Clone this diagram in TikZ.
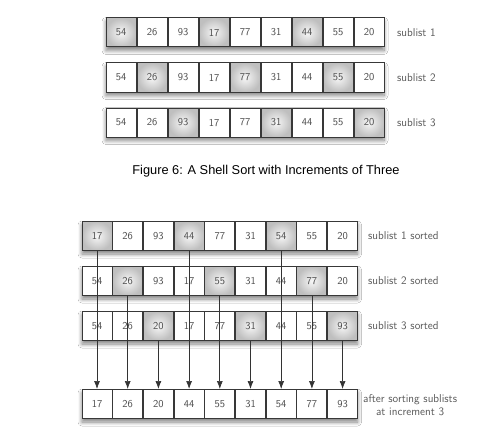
\documentclass[tikz,border=0pt]{standalone}
\usepackage{fontspec}
\newfontfamily\capfont{Liberation Sans}
\usetikzlibrary{shadows.blur,arrows.meta}
\definecolor{cellborder}{gray}{0.22}
\definecolor{celltext}{gray}{0.3}
\definecolor{labeltext}{gray}{0.35}
\tikzset{
 cell/.style={draw=cellborder, line width=1pt, fill=white, minimum width=30pt, minimum height=29pt, inner sep=0pt, text=celltext, font=\sffamily\fontsize{10.5}{12}\selectfont},
 hi/.style={shading=radial, inner color=gray!6, outer color=gray!50},
 plain/.style={},
 rowshadow/.style={draw=none, fill=white, minimum height=29pt, inner sep=0pt, blur shadow={shadow xshift=0pt, shadow yshift=-3.5pt, shadow blur steps=8, shadow opacity=50, shadow blur radius=4pt}},
 lbl/.style={anchor=west, text=labeltext, font=\sffamily\fontsize{11.4}{13.5}\selectfont, inner sep=0pt},
 conn/.style={draw=black!80, line width=0.7pt, -{Latex[length=8pt,width=6pt]}},
 captext/.style={font=\capfont\fontsize{12.8}{15}\selectfont, text=black, inner sep=0pt},
}
\begin{document}
\begin{tikzpicture}[x=1pt,y=-1pt]
\useasboundingbox[fill=white] (0,0) rectangle (487,428);
% ---------- top figure ----------
\node[rowshadow, minimum width=278pt] (t1bg) at (245,32.5) {};
\node[rowshadow, minimum width=278pt] (t2bg) at (245,77.5) {};
\node[rowshadow, minimum width=278pt] (t3bg) at (245,122.5) {};
\foreach \v/\s [count=\k] in {54/hi,26/plain,93/plain,17/hi,77/plain,31/plain,44/hi,55/plain,20/plain}
  \node[cell,\s] (t1-\k) at ({121+(\k-1)*31},32.5) {\v};
\foreach \v/\s [count=\k] in {54/plain,26/hi,93/plain,17/plain,77/hi,31/plain,44/plain,55/hi,20/plain}
  \node[cell,\s] (t2-\k) at ({121+(\k-1)*31},77.5) {\v};
\foreach \v/\s [count=\k] in {54/plain,26/plain,93/hi,17/plain,77/plain,31/hi,44/plain,55/plain,20/hi}
  \node[cell,\s] (t3-\k) at ({121+(\k-1)*31},122.5) {\v};
\node[lbl] (lt1) at (397,32.5) {sublist 1};
\node[lbl] (lt2) at (397,77.5) {sublist 2};
\node[lbl] (lt3) at (397,122.5) {sublist 3};
\node[captext] (caption) at (266,171) {Figure 6: A Shell Sort with Increments of Three};
% ---------- bottom figure ----------
\node[rowshadow, minimum width=275.6pt] (b1bg) at (219.8,236) {};
\node[rowshadow, minimum width=275.6pt] (b2bg) at (219.8,281) {};
\node[rowshadow, minimum width=275.6pt] (b3bg) at (219.8,326) {};
\node[rowshadow, minimum width=275.6pt] (fbg) at (219.8,404) {};
\foreach \v/\s [count=\k] in {17/hi,26/plain,93/plain,44/hi,77/plain,31/plain,54/hi,55/plain,20/plain}
  \node[cell,\s] (b1-\k) at ({97+(\k-1)*30.7},236) {\v};
\foreach \v/\s [count=\k] in {54/plain,26/hi,93/plain,17/plain,55/hi,31/plain,44/plain,77/hi,20/plain}
  \node[cell,\s] (b2-\k) at ({97+(\k-1)*30.7},281) {\v};
\foreach \v/\s [count=\k] in {54/plain,26/plain,20/hi,17/plain,77/plain,31/hi,44/plain,55/plain,93/hi}
  \node[cell,\s] (b3-\k) at ({97+(\k-1)*30.7},326) {\v};
\foreach \v [count=\k] in {17,26,20,44,55,31,54,77,93}
  \node[cell] (f-\k) at ({97+(\k-1)*30.7},404) {\v};
\node[lbl] (lb1) at (368,236) {sublist 1 sorted};
\node[lbl] (lb2) at (368,281) {sublist 2 sorted};
\node[lbl] (lb3) at (368,326) {sublist 3 sorted};
\node[lbl, align=center] (lf) at (363,405) {after sorting sublists\\at increment 3};
% ---------- connectors ----------
\foreach \k in {1,4,7} \draw[conn] (b1-\k.south) -- (f-\k.north);
\foreach \k in {2,5,8} \draw[conn] (b2-\k.south) -- (f-\k.north);
\foreach \k in {3,6,9} \draw[conn] (b3-\k.south) -- (f-\k.north);
\end{tikzpicture}
\end{document}
